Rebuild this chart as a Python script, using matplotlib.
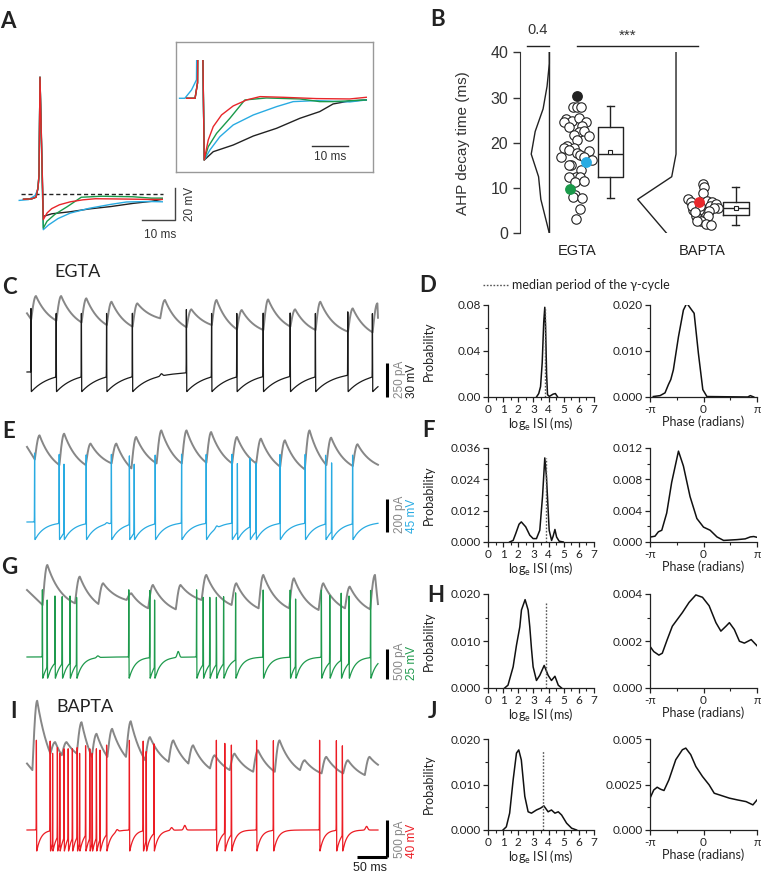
import numpy as np
import matplotlib
matplotlib.use("Agg")
import matplotlib.pyplot as plt
from matplotlib.lines import Line2D
from matplotlib.patches import Rectangle

plt.rcParams['font.family'] = ['Lato', 'DejaVu Sans']
ARIAL = ['Liberation Sans', 'DejaVu Sans']

# ---------------- data ----------------
# A: AHP recovery after the trough, normalised (1 = trough, 0 = baseline), time in ms after trough
ahp_t_black = [0, 2.55, 8.2, 13.9, 20.5, 27.1, 32.7, 36.5, 41.2, 45.9]
ahp_n_black = [1, 0.865, 0.757, 0.611, 0.486, 0.324, 0.216, 0.092, 0.043, 0.027]
ahp_t_blue = [0, 1.6, 4.43, 8.2, 13.9, 20.5, 25.2, 31.8, 41.2, 45.9]
ahp_n_blue = [1, 0.838, 0.622, 0.432, 0.27, 0.135, 0.054, 0.038, 0.059, 0.027]
ahp_t_green = [0, 1.13, 3.5, 7.26, 11.5, 17.6, 27.1, 32.7, 36.5, 45.9]
ahp_n_green = [1, 0.784, 0.568, 0.324, 0.027, -0.005, 0.011, 0.054, 0.054, 0.027]
ahp_t_red = [0, 1.13, 2.55, 4.9, 8.2, 12.0, 15.8, 22.4, 31.8, 41.2, 45.9]
ahp_n_red = [1, 0.676, 0.459, 0.27, 0.124, 0.027, -0.027, -0.016, 0.005, 0.011, -0.016]
trough_mv = {'black': -14.0, 'blue': -22.3, 'green': -21.3, 'red': -16.0}
base_mv = {'black': -2.0, 'blue': -4.0, 'green': -1.5, 'red': -3.3}

# B: AHP decay times (ms) and swarm offsets
egta_vals = [28.0, 28.0, 28.0, 25.2, 24.9, 24.6, 23.6, 25.4, 24.5, 23.7, 22.3, 22.5, 21.7, 21.6, 20.6,
             19.4, 18.9, 18.9, 18.3, 16.9, 17.7, 17.2, 18.2, 16.9, 16.1, 15.2, 15.0, 14.0, 12.5, 12.4,
             12.4, 11.4, 11.5, 8.5, 8.0, 7.9, 5.3, 3.2]
egta_offs = [-0.033, 0.003, 0.033, -0.089, -0.043, -0.108, -0.065, 0.016, 0.070, 0.038, 0.019, 0.060,
             -0.022, 0.098, -0.003, -0.084, -0.103, -0.024, -0.062, -0.127, -0.003, 0.027, 0.098, 0.060,
             0.122, -0.049, -0.065, 0.033, -0.008, 0.024, -0.062, -0.019, 0.057, -0.014, -0.035, 0.043,
             0.027, -0.008]
egta_marked = [(30.3, -0.003, '#222222'), (15.8, 0.073, '#29abe2'), (9.8, -0.057, '#1a9a4a')]
bapta_vals = [11.0, 10.2, 9.0, 7.6, 7.0, 7.2, 6.9, 6.1, 6.5, 5.5, 5.7, 5.2, 4.9, 5.2, 5.0, 3.9, 3.9,
              2.8, 2.7, 2.1, 1.8, 6.0, 6.0, 4.6]
bapta_offs = [0.022, 0.035, 0.027, -0.100, -0.076, 0.054, 0.098, 0.079, 0.130, 0.149, 0.114, -0.054,
              0.027, -0.005, 0.070, -0.030, 0.068, 0.008, -0.027, 0.049, 0.087, -0.068, 0.0, -0.038]
bapta_marked = [(6.9, -0.011, '#e8282b')]
egta_box = dict(med=17.5, q1=12.4, q3=23.6, whislo=7.9, whishi=28.1, mean=17.9)
bapta_box = dict(med=5.7, q1=4.0, q3=6.9, whislo=1.9, whishi=10.2, mean=5.7)
egta_dens_y = [0, 7.5, 12.5, 17.5, 22.5, 27.5, 32.5, 37.5, 40]
egta_dens = [0, 0.15, 0.19, 0.32, 0.25, 0.11, 0.04, 0, 0]
bapta_dens_y = [0, 7.5, 12.5, 17.5, 40]
bapta_dens = [0.165, 0.678, 0.076, 0, 0]

# C, E, G, I: spike times (ms), IPSC onsets (ms), current peaks / troughs (pA)
C_spikes = [7, 49, 91, 133, 176, 266, 308, 350, 394, 439, 481, 535, 576]
C_onsets = [7, 49, 91, 133, 176, 222, 266, 308, 350, 394, 439, 481, 535, 576]
C_peaks = [299, 299, 282, 257, 245, 270, 201, 270, 196, 274, 201, 257, 208, 245]
C_troughs = [127, 118, 105, 86, 74, 135, 69, 86, 54, 49, 74, 49, 37, 32]
C_bumps = [(224, 2.0)]

E_spikes = [13, 54, 62, 99, 141, 171, 179, 214, 258, 299, 342, 351, 372, 382, 422, 464, 498, 508, 543]
E_onsets = [13, 54, 98, 141, 174, 216, 258, 299, 342, 382, 422, 463, 499, 543]
E_peaks = [230, 240, 180, 180, 220, 260, 260, 250, 220, 210, 200, 260, 216, 176]
E_troughs = [84, 50, 50, 60, 30, 60, 60, 64, 60, 60, 40, 24, 50, 44]
E_bumps = [(316, 3.0), (133, 2.0)]

G_spikes = [26, 34, 47, 59, 72, 83, 170, 205, 213, 283, 294, 305, 316, 328, 348, 394, 439, 448,
            491, 505, 524, 537, 573]
G_onsets = [26, 80, 119, 166, 202, 248, 291, 341, 386, 437, 486, 530, 572]
G_peaks = [917, 723, 612, 445, 584, 584, 751, 612, 751, 695, 612, 556, 751]
G_troughs = [250, 278, 267, 334, 195, 178, 334, 250, 195, 195, 167, 195, 178]
G_bumps = [(252, 5.0), (118, 1.5)]

I_spikes = [16, 39, 43, 51, 55, 62, 69, 76, 84, 88, 98, 105, 109, 116, 122, 133, 171, 194, 199,
            212, 316, 330, 341, 383, 411, 488, 516, 526]
I_onsets = [9, 39, 58, 83, 108, 134, 165, 197, 236, 269, 305, 338, 377, 413, 455, 491, 527, 563]
I_peaks = [1026, 468, 468, 736, 580, 647, 749, 535, 491, 424, 290, 312, 357, 491, 223, 268, 223, 268]
I_troughs = [89, 312, 290, 312, 268, 268, 268, 223, 201, 178, 112, 89, 67, 67, 89, 45, 45, 22]
I_bumps = [(263, 5.0), (241, 3.0), (566, 4.0), (150, 2.5)]

# D, F, H, J: ISI and phase distributions
isi_x_D = [3.2, 3.35, 3.47, 3.58, 3.68, 3.75, 3.8, 3.87, 3.93, 4.05, 4.3, 4.45, 4.6]
isi_y_D = [0.0, 0.003, 0.009, 0.03, 0.065, 0.078, 0.062, 0.02, 0.002, 0.0005, 0.0025, 0.003, 0.0]
ph_x_D = [-2.95, -2.55, -2.26, -2.06, -1.92, -1.77, -1.47, -1.18, -0.98, -0.69, -0.55, -0.30, -0.04,
          0.2, 2.6, 2.75, 2.95]
ph_y_D = [0.0001, 0.0003, 0.0009, 0.0027, 0.0038, 0.0059, 0.0131, 0.0189, 0.0204, 0.0189, 0.0182,
          0.0095, 0.0016, 0.0001, 0.0, 0.0003, 0.0]
isi_x_F = [1.43, 1.66, 1.83, 2.05, 2.2, 2.49, 2.76, 2.98, 3.2, 3.42, 3.6, 3.75, 3.86, 4.04, 4.2, 4.3,
           4.42, 4.53, 4.7, 4.97]
isi_y_F = [0, 0.0006, 0.0032, 0.0068, 0.0077, 0.0058, 0.0026, 0.0013, 0.0013, 0.0045, 0.0174, 0.0322,
           0.025, 0.0045, 0.0006, 0.0022, 0.0048, 0.0019, 0.0003, 0]
ph_x_F = [-3.08, -2.85, -2.65, -2.45, -2.16, -1.87, -1.47, -1.18, -0.79, -0.39, 0, 0.39, 0.79, 1.18,
          1.96, 2.45, 2.75, 2.95, 3.14]
ph_y_F = [0.00065, 0.00074, 0.0013, 0.0015, 0.0037, 0.0076, 0.0116, 0.0097, 0.0058, 0.003, 0.0019,
          0.0015, 0.00065, 0.0002, 0.0003, 0.0004, 0.00065, 0.0007, 0.0006]
isi_x_H = [1.1, 1.32, 1.66, 1.88, 2.1, 2.21, 2.45, 2.65, 2.76, 2.87, 2.98, 3.2, 3.42, 3.71, 3.97, 4.19,
           4.42, 4.64, 4.86]
isi_y_H = [0, 0.0006, 0.0045, 0.0091, 0.013, 0.0166, 0.0188, 0.0166, 0.013, 0.0084, 0.0045, 0.0016,
           0.0027, 0.0048, 0.0027, 0.0016, 0.0025, 0.0006, 0]
ph_x_H = [-3.14, -2.92, -2.62, -2.42, -2.13, -1.83, -1.24, -0.85, -0.45, -0.06, 0.33, 0.73, 1.02, 1.32,
          1.52, 1.81, 2.11, 2.40, 2.80, 3.14]
ph_y_H = [0.00177, 0.00155, 0.0014, 0.00148, 0.00206, 0.00263, 0.00321, 0.00364, 0.00396, 0.00386,
          0.0035, 0.00278, 0.00242, 0.00263, 0.00278, 0.00249, 0.00199, 0.00191, 0.00206, 0.0018]
isi_x_J = [0.99, 1.21, 1.43, 1.66, 1.88, 2.03, 2.2, 2.43, 2.65, 2.87, 3.2, 3.47, 3.69, 3.97, 4.19, 4.42,
           4.64, 4.86, 5.19, 5.52, 5.85]
isi_y_J = [0, 0.0007, 0.0037, 0.011, 0.0169, 0.0176, 0.0154, 0.0074, 0.004, 0.0037, 0.0044, 0.0048,
           0.0053, 0.004, 0.0044, 0.0037, 0.004, 0.0033, 0.0015, 0.0004, 0]
ph_x_J = [-3.14, -2.92, -2.72, -2.52, -2.32, -2.03, -1.63, -1.24, -1.04, -0.75, -0.45, -0.06, 0.33, 0.63,
          0.93, 1.52, 2.01, 2.50, 2.90, 3.14]
ph_y_J = [0.00175, 0.0022, 0.00235, 0.00224, 0.00217, 0.00276, 0.00386, 0.00441, 0.0045, 0.00414,
          0.00349, 0.00294, 0.00248, 0.00202, 0.00193, 0.00175, 0.00165, 0.00156, 0.00138, 0.00165]
median_isi = {'D': (3.75, 0.077), 'F': (3.8, 0.032), 'H': (3.86, 0.0184), 'J': (3.6, 0.0173)}

# ---------------- helpers ----------------
W, H = 763, 874
fig = plt.figure(figsize=(W / 100, H / 100), dpi=100)


def px_axes(left, top, right, bottom):
    return fig.add_axes([left / W, 1 - bottom / H, (right - left) / W, (bottom - top) / H])


def ftext(x, y, s, **kw):
    fig.text(x / W, 1 - y / H, s, **kw)


def build_voltage(t, spikes, ahp, tau, height, bumps):
    last = np.full(t.shape, -1e9)
    for s in spikes:
        last[t >= s] = s
    v = -ahp * np.exp(-(t - last) / tau)
    for s in spikes:
        v += height * np.exp(-((t - s + 0.35) / 0.25) ** 2)
    for tb, hb in bumps:
        v += hb * np.exp(-((t - tb) / 2.5) ** 2)
    return v


def build_current(t, onsets, peaks, troughs, start, end_val, rise=8.0, tau=25.0):
    y = np.interp(t, [t[0], onsets[0]], [start, troughs[0]])
    targets = list(troughs[1:]) + [end_val]
    ends = list(onsets[1:]) + [t[-1] + 1]
    for on, pk, tr, tg, en in zip(onsets, peaks, troughs, targets, ends):
        m = (t >= on) & (t < en)
        tt = t[m] - on
        seg = np.empty(tt.shape)
        r = tt < rise
        seg[r] = tr + (pk - tr) * np.sin(0.5 * np.pi * tt[r] / rise)
        d = tt[~r] - rise
        span = max(en - on - rise, 1e-6)
        seg[~r] = pk + (tg - pk) * (1 - np.exp(-d / tau)) / (1 - np.exp(-span / tau))
        y[m] = seg
    return y


# ---------------- panel letters ----------------
for lab, x, y in [('A', 8, 21), ('B', 438, 20), ('C', 9, 287), ('D', 428, 285), ('E', 9, 432),
                  ('F', 428, 430), ('G', 9, 568), ('H', 436, 596), ('I', 13, 711), ('J', 433, 712)]:
    ftext(x, y, lab, fontsize=16, fontweight='bold', ha='center', va='center', color='#222222')

# ---------------- A ----------------
colors_a = {'black': '#222222', 'blue': '#29abe2', 'green': '#1a9a4a', 'red': '#e8262a'}
ahp_data = {'black': (ahp_t_black, ahp_n_black), 'blue': (ahp_t_blue, ahp_n_blue),
            'green': (ahp_t_green, ahp_n_green), 'red': (ahp_t_red, ahp_n_red)}

axA = px_axes(0, 60, 210, 250)
axA.set_xlim(-40 / 3.3, 170 / 3.3)
axA.set_ylim((194 - 250) * 0.625, (194 - 60) * 0.625)
axA.axis('off')
axA.plot([-5.8, 37.3], [0, 0], color='#222222', lw=1.0, ls=(0, (3, 2)))
clip = Rectangle((-10, -40), 47.3, 140, transform=axA.transData)
for name in ['black', 'blue', 'green', 'red']:
    tt, nn = ahp_data[name]
    b, tr = base_mv[name], trough_mv[name]
    pre_t = [-6.3, -3.5, -1.5, -0.6, -0.3, 0.0] if name == 'blue' else [-5.0, -2.5, -1.2, -0.6, -0.3, 0.0]
    pre_v = [-4.0, -3.5, -1.0, 3.0, 12.0, 73.0] if name == 'blue' else [-3.3, -3.0, -2.0, 4.0, 12.0, 73.0]
    t_all = pre_t + [1 + x for x in tt]
    v_all = pre_v + [b + (tr - b) * n for n in nn]
    ln, = axA.plot(t_all, v_all, color=colors_a[name], lw=1.0)
    ln.set_clip_path(clip)
# scale bar
axA.plot([31.0, 41.0, 41.0], [-16.25, -16.25, 3.75], color='#444444', lw=1.0, clip_on=False)
axA.text(45.5, -6.25, '20 mV', rotation=90, ha='center', va='center', fontsize=8.5, family=ARIAL, color='#333333')
axA.text(36.4, -25.6, '10 ms', ha='center', va='center', fontsize=8.5, family=ARIAL, color='#333333')

# inset
axBox = px_axes(176, 42, 373, 172)
axBox.set_xticks([])
axBox.set_yticks([])
for sp in axBox.spines.values():
    sp.set_color('#999999')
    sp.set_linewidth(1.0)
axIn = px_axes(176, 60, 373, 172)
axIn.set_xlim(-8.0, 47.8)
axIn.set_ylim(-1.194, 0.62)
axIn.axis('off')
for name in ['black', 'blue', 'green', 'red']:
    tt, nn = ahp_data[name]
    if name == 'blue':
        pre_t, pre_y = [-7.0, -5.5, -3.6, -2.2, -1.5], [0, 0, 0.135, 0.3, 5.0]
    else:
        pre_t, pre_y = [-5.0, -2.6, -1.9, -1.4], [0, 0, 0.25, 5.0]
    axIn.plot(pre_t + list(tt), pre_y + [-n for n in nn], color=colors_a[name], lw=1.0)
axIn.plot([30.5, 40.7], [-0.773, -0.773], color='#333333', lw=1.0)
axIn.text(35.6, -0.95, '10 ms', ha='center', va='center', fontsize=8.5, family=ARIAL, color='#333333')

# ---------------- B ----------------
axB = px_axes(520, 52.3, 757, 233.3)
dscale = 0.46
axB.plot([0.775 - d * dscale for d in egta_dens], egta_dens_y, color='#222222', lw=1.0)
axB.plot([0.775, 0.775], [0, 40], color='#222222', lw=1.0)
axB.plot([1.805 - d * dscale for d in bapta_dens], bapta_dens_y, color='#222222', lw=1.0)

axB.scatter([1 + o for o in egta_offs], egta_vals, s=46, facecolor='white', edgecolor='#222222',
            linewidth=0.8, zorder=3)
axB.scatter([2 + o for o in bapta_offs], bapta_vals, s=46, facecolor='white', edgecolor='#222222',
            linewidth=0.8, zorder=3)
for v, o, c in egta_marked:
    axB.scatter([1 + o], [v], s=46, color=c, zorder=4)
for v, o, c in bapta_marked:
    axB.scatter([2 + o], [v], s=46, color=c, zorder=4)

axB.bxp([dict(egta_box), dict(bapta_box)], positions=[1.27, 2.29], widths=[0.2, 0.21],
        capwidths=[0.06, 0.06], showmeans=True, showfliers=False, manage_ticks=False,
        boxprops=dict(color='#222222', lw=1.0), whiskerprops=dict(color='#222222', lw=1.0),
        capprops=dict(color='#222222', lw=1.0), medianprops=dict(color='#222222', lw=1.0),
        meanprops=dict(marker='s', markersize=3.5, markerfacecolor='white', markeredgecolor='#222222',
                       markeredgewidth=0.8))

axB.set_xlim(1 - 57 / 123, 2 + 57 / 123)
axB.set_ylim(0, 40)
for sp in ['top', 'right', 'bottom']:
    axB.spines[sp].set_visible(False)
axB.spines['left'].set_color('#333333')
axB.set_xticks([])
axB.set_yticks([0, 10, 20, 30, 40])
axB.tick_params(axis='y', direction='out', length=5, width=1, labelsize=11.5, colors='#333333',
                labelfontfamily='Liberation Sans')
axB.set_ylabel('AHP decay time (ms)', fontsize=11, family=ARIAL, color='#333333')
axB.yaxis.set_label_coords((470 - 520) / 237, 0.5)

axB.plot([0.775 - 0.4 * dscale, 0.775], [41.5, 41.5], color='#222222', lw=1.0, clip_on=False)
axB.text(0.775 - 0.2 * dscale, 43.4, '0.4', ha='center', va='bottom', fontsize=10.5, family=ARIAL,
         color='#333333')
axB.plot([0.997, 1.986], [41.5, 41.5], color='#222222', lw=1.0, clip_on=False)
axB.text(1.415, 42.2, '***', ha='center', va='bottom', fontsize=11, family=ARIAL, color='#333333')
axB.text(1.0, -3.9, 'EGTA', ha='center', va='center', fontsize=10.5, family=ARIAL, color='#222222')
axB.text(2.02, -3.9, 'BAPTA', ha='center', va='center', fontsize=10.5, family=ARIAL, color='#222222')

# ---------------- C, E, G, I ----------------
t = np.arange(0, 585, 0.05)
GREY = '#878787'
traces = [
    dict(top=285, bottom=400, ref=372, mvpx=30 / 34, zero=336.7, mvpa=0.12, spikes=C_spikes, ahp=17.5,
         tau=30, height=56, bumps=C_bumps, color='#1a1a1a', onsets=C_onsets, peaks=C_peaks,
         troughs=C_troughs, start=172, end=32, bar_px=397, mv=30, pa=250),
    dict(top=425, bottom=545, ref=522, mvpx=45 / 33, zero=473.3, mvpa=0.225, spikes=E_spikes, ahp=24.5,
         tau=16, height=94, bumps=E_bumps, color='#29abe2', onsets=E_onsets, peaks=E_peaks,
         troughs=E_troughs, start=160, end=50, bar_px=532, mv=45, pa=200),
    dict(top=558, bottom=685, ref=657, mvpx=25 / 30, zero=620, mvpa=0.05, spikes=G_spikes, ahp=18.3,
         tau=10, height=56, bumps=G_bumps, color='#1f9a4d', onsets=G_onsets, peaks=G_peaks,
         troughs=G_troughs, start=500, end=178, bar_px=679, mv=25, pa=500),
    dict(top=695, bottom=860, ref=830, mvpx=40 / 37, zero=776.7, mvpa=0.08, spikes=I_spikes, ahp=23.8,
         tau=7, height=97, bumps=I_bumps, color='#ec1c24', onsets=I_onsets, peaks=I_peaks,
         troughs=I_troughs, start=178, end=156, bar_px=857, mv=40, pa=500),
]
for p in traces:
    ax = px_axes(27, p['top'], 378, p['bottom'])
    ax.set_xlim(0, 585)
    ax.set_ylim((p['ref'] - p['bottom']) * p['mvpx'], (p['ref'] - p['top']) * p['mvpx'])
    ax.axis('off')
    cur = build_current(t, p['onsets'], p['peaks'], p['troughs'], p['start'], p['end'])
    ax.plot(t, (p['ref'] - p['zero']) * p['mvpx'] + cur * p['mvpa'], color=GREY, lw=1.4, clip_on=False)
    v = build_voltage(t, p['spikes'], p['ahp'], p['tau'], p['height'], p['bumps'])
    ax.plot(t, v, color=p['color'], lw=0.9, clip_on=False)
    yb = (p['ref'] - p['bar_px']) * p['mvpx']
    ax.plot([600, 600], [yb, yb + p['mv']], color='black', lw=2.2, clip_on=False, solid_capstyle='butt')
    ax.text(622, yb - 1 * p['mvpx'], f"{p['pa']} pA", rotation=90, ha='center', va='bottom',
            fontsize=8.5, family=ARIAL, color=GREY)
    ax.text(642, yb - 1 * p['mvpx'], f"{p['mv']} mV", rotation=90, ha='center', va='bottom',
            fontsize=8.5, family=ARIAL, color=p['color'])
    if p['pa'] == 500 and p['mv'] == 40:
        ax.plot([550, 600], [yb, yb], color='black', lw=2.2, clip_on=False, solid_capstyle='butt')
        ax.text(571.7, yb - 11 * p['mvpx'], '50 ms', ha='center', va='center', fontsize=9,
                family=ARIAL, color='#222222')

ftext(78, 272, 'EGTA', fontsize=13, ha='center', va='center', color='#222222')
ftext(85, 707, 'BAPTA', fontsize=13, ha='center', va='center', color='#222222')

# ---------------- D, F, H, J ----------------
rows = [
    ('D', 305, 397, isi_x_D, isi_y_D, [0, 0.04, 0.08], '{:.2f}', ph_x_D, ph_y_D, [0, 0.010, 0.020], '{:.3f}'),
    ('F', 448, 542, isi_x_F, isi_y_F, [0, 0.012, 0.024, 0.036], '{:.3f}', ph_x_F, ph_y_F,
     [0, 0.004, 0.008, 0.012], '{:.3f}'),
    ('H', 594, 688, isi_x_H, isi_y_H, [0, 0.010, 0.020], '{:.3f}', ph_x_H, ph_y_H, [0, 0.002, 0.004], '{:.3f}'),
    ('J', 739, 830, isi_x_J, isi_y_J, [0, 0.010, 0.020], '{:.3f}', ph_x_J, ph_y_J, [0, 0.0025, 0.005], None),
]


def style_axes(ax):
    for sp in ['top', 'right']:
        ax.spines[sp].set_visible(False)
    for sp in ['left', 'bottom']:
        ax.spines[sp].set_color('#222222')
        ax.spines[sp].set_linewidth(0.9)
    ax.tick_params(which='major', direction='out', length=3.5, width=0.9, labelsize=8.5, pad=1.5,
                   colors='#222222')
    ax.tick_params(which='minor', direction='out', length=2, width=0.8, colors='#222222')


for lab, top, bot, ix, iy, iticks, ifmt, px_, py_, pticks, pfmt in rows:
    ax1 = px_axes(488, top, 594, bot)
    style_axes(ax1)
    ax1.plot(ix, iy, color='#111111', lw=1.1)
    m, h = median_isi[lab]
    ax1.plot([m, m], [0, h], color='#555555', lw=1.0, ls=(0, (1.2, 1.2)))
    ax1.set_xlim(0, 7)
    ax1.set_ylim(0, iticks[-1])
    ax1.set_xticks(range(8))
    ax1.set_xticks(np.arange(0.5, 7, 1.0), minor=True)
    ax1.set_yticks(iticks)
    ax1.set_yticks([(a + b) / 2 for a, b in zip(iticks[:-1], iticks[1:])], minor=True)
    ax1.set_yticklabels([ifmt.format(v) for v in iticks])
    ax1.set_xlabel('log$_{\\mathregular{e}}$ ISI (ms)', fontsize=9, labelpad=0.5, color='#222222')
    ax1.set_ylabel('Probability', fontsize=9, color='#222222')
    ax1.yaxis.set_label_coords((435 - 488) / 106, 0.5)

    ax2 = px_axes(650, top, 757, bot)
    style_axes(ax2)
    ax2.plot(px_, py_, color='#111111', lw=1.1)
    ax2.set_xlim(-np.pi, np.pi)
    ax2.set_ylim(0, pticks[-1])
    ax2.set_xticks([-np.pi, 0, np.pi])
    ax2.set_xticklabels(['-π', '0', 'π'])
    ax2.set_xticks([-np.pi / 2, np.pi / 2], minor=True)
    ax2.set_yticks(pticks)
    ax2.set_yticks([(a + b) / 2 for a, b in zip(pticks[:-1], pticks[1:])], minor=True)
    if pfmt is None:
        ax2.set_yticklabels(['0.000', '0.0025', '0.005'])
    else:
        ax2.set_yticklabels([pfmt.format(v) for v in pticks])
    ax2.set_xlabel('Phase (radians)', fontsize=9, labelpad=0.5, color='#222222')

# legend line for D
fig.add_artist(Line2D([483 / W, 508 / W], [1 - 285 / H, 1 - 285 / H], color='#555555', lw=1.0,
                      ls=(0, (1.2, 1.2))))
ftext(512, 285, 'median period of the γ-cycle', fontsize=9, ha='left', va='center', color='#222222')

fig.savefig('out.png', dpi=100)
